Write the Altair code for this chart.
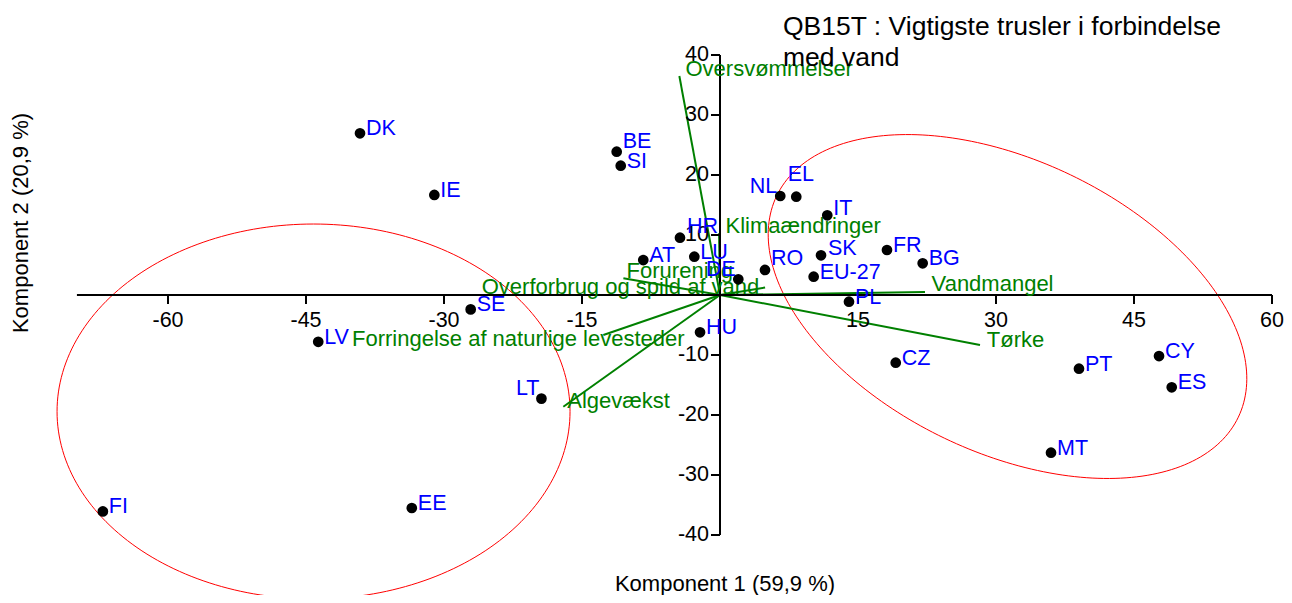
import math
import altair as alt
import pandas as pd

# ---------------- data ----------------
countries = ["DK", "IE", "BE", "SI", "HR", "AT", "LU", "DE", "RO", "NL", "EL", "IT",
             "SK", "EU-27", "FR", "BG", "PL", "CZ", "PT", "CY", "ES", "MT", "HU",
             "LT", "SE", "LV", "EE", "FI"]
comp1 = [-39.13, -31.05, -11.23, -10.79, -4.35, -8.34, -2.79, 1.99, 4.89, 6.55, 8.29, 11.66,
         10.98, 10.18, 18.15, 22.03, 14.02, 19.10, 39.02, 47.72, 49.10, 35.98, -2.17,
         -19.41, -27.10, -43.67, -33.50, -67.08]
comp2 = [26.95, 16.67, 23.88, 21.55, 9.55, 5.83, 6.38, 2.62, 4.17, 16.50, 16.38, 13.28,
         6.62, 3.05, 7.50, 5.28, -1.12, -11.28, -12.28, -10.17, -15.38, -26.28, -6.22,
         -17.27, -2.40, -7.80, -35.50, -36.07]

threats = ["Oversvømmelser", "Klimaændringer", "Forurening", "Overforbrug og spild af vand",
           "Vandmangel", "Tørke", "Forringelse af naturlige levesteder", "Algevækst"]
threat_x = [-4.42, -0.10, -10.50, 4.90, 22.28, 28.26, -12.68, -17.03]
threat_y = [36.50, 10.30, 2.80, 1.25, 0.50, -8.33, -6.67, -18.62]
threat_label_x = [-3.75, 0.60, -10.15, -25.90, 23.00, 29.00, -40.00, -16.60]
threat_label_y = [36.50, 10.33, 2.83, 0.25, 0.70, -8.62, -8.45, -18.88]

x_ticks = [-60, -45, -30, -15, 15, 30, 45, 60]
y_ticks = [40, 30, 20, 10, -10, -20, -30, -40]
x_axis_span = [-69.9, 60]
y_axis_span = [-40, 40]

# cluster ellipses: centre and two conjugate semi-axis vectors (data units)
ellipse_names = ["venstre", "højre"]
ellipse_cx = [-44.18, 31.25]
ellipse_cy = [-19.42, -1.92]
ellipse_ux = [27.88, 25.09]
ellipse_uy = [0.0, -18.44]
ellipse_vx = [0.0, -6.86]
ellipse_vy = [31.25, -21.94]

TITLE = "QB15T : Vigtigste trusler i forbindelse\nmed vand"
XTITLE = "Komponent 1 (59,9 %)"
YTITLE = "Komponent 2 (20,9 %)"

# ---------------- layout / style ----------------
FONT = "Liberation Sans, Arial, sans-serif"
W, H = 1276, 587
PX_X, PX_Y = 9.2, 6.0          # pixels per data unit
ORIG_X, ORIG_Y = 712, 287       # origin in plot pixels
XDOM = [-ORIG_X / PX_X, (W - ORIG_X) / PX_X]
YDOM = [-(H - ORIG_Y) / PX_Y, ORIG_Y / PX_Y]
TICK_PX = 9
GREEN = "#008000"
BLUE = "#0000FF"

xs = alt.Scale(domain=XDOM, nice=False, zero=False)
ys = alt.Scale(domain=YDOM, nice=False, zero=False)


def X(f="x"):
    return alt.X(f"{f}:Q", scale=xs, axis=None)


def Y(f="y"):
    return alt.Y(f"{f}:Q", scale=ys, axis=None)


pts = pd.DataFrame({"name": countries, "x": comp1, "y": comp2})
vec = pd.DataFrame({"name": threats, "x": threat_x, "y": threat_y,
                    "lx": threat_label_x, "ly": threat_label_y,
                    "x0": [0.0] * len(threats), "y0": [0.0] * len(threats)})

# ellipse outlines
rows = []
N = 240
for k, nm in enumerate(ellipse_names):
    for i in range(N + 1):
        t = 2 * math.pi * i / N
        rows.append({"e": nm, "i": i,
                     "x": ellipse_cx[k] + ellipse_ux[k] * math.cos(t) + ellipse_vx[k] * math.sin(t),
                     "y": ellipse_cy[k] + ellipse_uy[k] * math.cos(t) + ellipse_vy[k] * math.sin(t)})
ell = pd.DataFrame(rows)

ellipses = alt.Chart(ell).mark_line(color="#FF0000", strokeWidth=1).encode(
    x=X(), y=Y(), detail="e:N", order="i:Q")

vectors = alt.Chart(vec).mark_rule(color=GREEN, strokeWidth=2).encode(
    x=X("x0"), y=Y("y0"), x2="x:Q", y2="y:Q")

xaxis_df = pd.DataFrame({"x": [x_axis_span[0]], "x2": [x_axis_span[1]], "y": [0.0]})
yaxis_df = pd.DataFrame({"y": [y_axis_span[0]], "y2": [y_axis_span[1]], "x": [0.0]})
xaxis = alt.Chart(xaxis_df).mark_rule(color="black", strokeWidth=2).encode(
    x=X(), x2="x2:Q", y=Y())
yaxis = alt.Chart(yaxis_df).mark_rule(color="black", strokeWidth=2).encode(
    x=X(), y=Y(), y2="y2:Q")

xt = pd.DataFrame({"x": x_ticks, "y": [0.0] * len(x_ticks),
                   "y2": [-TICK_PX / PX_Y] * len(x_ticks),
                   "lab": [str(v) for v in x_ticks]})
yt = pd.DataFrame({"y": y_ticks, "x": [0.0] * len(y_ticks),
                   "x2": [-TICK_PX / PX_X] * len(y_ticks),
                   "lab": [str(v) for v in y_ticks]})
xticks = alt.Chart(xt).mark_rule(color="black", strokeWidth=2).encode(x=X(), y=Y(), y2="y2:Q")
yticks = alt.Chart(yt).mark_rule(color="black", strokeWidth=2).encode(x=X(), x2="x2:Q", y=Y())
xlabels = alt.Chart(xt).mark_text(font=FONT, fontSize=21.5, align="center", baseline="alphabetic",
                                  dy=32, color="black").encode(x=X(), y=Y(), text="lab:N")
ylabels = alt.Chart(yt).mark_text(font=FONT, fontSize=21.5, align="right", baseline="middle",
                                  dx=-11, color="black").encode(x=X(), y=Y(), text="lab:N")

vlabels = alt.Chart(vec).mark_text(font=FONT, fontSize=22, align="left", baseline="alphabetic",
                                   color=GREEN).encode(x=X("lx"), y=Y("ly"), text="name:N")

points = alt.Chart(pts).mark_circle(size=115, color="black", opacity=1).encode(x=X(), y=Y())

# label placement (align, dx, dy) per country; default to upper-right of point
default_place = ("left", 6, 2)
place = {"BE": ("left", 6, -4), "HR": ("left", 7, -4.5), "RO": ("left", 6, -5),
         "IT": ("left", 6, 0), "SK": ("left", 7, 0), "EL": ("left", -8.5, -16),
         "NL": ("right", -3, -3.5), "DE": ("right", -2.5, -3.5), "LT": ("right", -2, -4)}
groups = {}
for c in countries:
    groups.setdefault(place.get(c, default_place), []).append(c)
label_layers = []
for (al, dx, dy), members in groups.items():
    label_layers.append(
        alt.Chart(pts).transform_filter(alt.FieldOneOfPredicate(field="name", oneOf=members))
        .mark_text(font=FONT, fontSize=21.5, align=al, baseline="alphabetic", dx=dx, dy=dy, color=BLUE)
        .encode(x=X(), y=Y(), text="name:N"))

one = pd.DataFrame({"t": [TITLE], "xt": [XTITLE], "yt": [YTITLE]})
title = alt.Chart(one).mark_text(font=FONT, fontSize=26.5, align="left", baseline="alphabetic",
                                 lineBreak="\n", lineHeight=31, color="black").encode(
    x=alt.value(775), y=alt.value(26.5), text="t:N")
xtitle = alt.Chart(one).mark_text(font=FONT, fontSize=22, align="center", baseline="alphabetic",
                                  color="black").encode(x=alt.value(717), y=alt.value(583), text="xt:N")
ytitle = alt.Chart(one).mark_text(font=FONT, fontSize=22, align="center", baseline="middle",
                                  angle=270, color="black").encode(x=alt.value(13), y=alt.value(215), text="yt:N")

chart = alt.layer(
    ellipses, vectors, xaxis, yaxis, xticks, yticks, xlabels, ylabels,
    vlabels, points, *label_layers, title, xtitle, ytitle
).properties(
    width=W, height=H,
    autosize=alt.AutoSizeParams(type="none"),
    padding={"left": 0, "right": 0, "top": 0, "bottom": 0},
    background="white",
).configure_view(stroke=None)

chart.save("out.html", embed_options={"renderer": "svg", "actions": False})
